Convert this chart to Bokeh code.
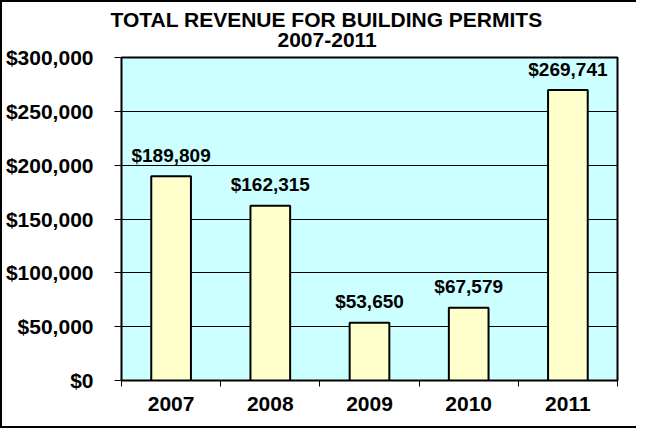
from bokeh.plotting import figure
from bokeh.models import Range1d, FixedTicker, NumeralTickFormatter, ColumnDataSource, Title
from bokeh.core.properties import value
from bokeh.embed import file_html
from bokeh.resources import INLINE

years = ["2007", "2008", "2009", "2010", "2011"]
revenue = [189809, 162315, 53650, 67579, 269741]
value_labels = ["$189,809", "$162,315", "$53,650", "$67,579", "$269,741"]
title_main = "TOTAL REVENUE FOR BUILDING PERMITS"
title_sub = "2007-2011"
y_ticks = [0, 50000, 100000, 150000, 200000, 250000, 300000]

FONT = "Liberation Sans"

xpos = [i + 0.5 for i in range(len(years))]
src = ColumnDataSource(dict(x=xpos, top=revenue, lab=value_labels))

p = figure(width=636, height=428, output_backend="svg", toolbar_location=None,
           x_range=Range1d(0, len(years)), y_range=Range1d(0, 300000),
           min_border_left=119, min_border_right=21, min_border_top=55,
           min_border_bottom=50)
p.styles = {"border-left": "2px solid black", "border-top": "2px solid black",
            "border-bottom": "2px solid black"}
p.background_fill_color = "#CCFFFF"
p.border_fill_color = "white"
p.outline_line_color = "black"
p.outline_line_width = 2

p.vbar(x="x", top="top", width=0.4, bottom=0, source=src,
       fill_color="#FFFFCC", line_color="black", line_width=2)

p.text(x="x", y="top", text="lab", source=src, y_offset=-21,
       text_align="center", text_baseline="alphabetic",
       text_font=value(FONT), text_font_style="bold",
       text_font_size="19px", text_color="black")

p.xgrid.grid_line_color = None
p.ygrid.grid_line_color = "black"
p.ygrid.grid_line_width = 1
p.ygrid.ticker = FixedTicker(ticks=y_ticks)

ya = p.yaxis[0]
ya.ticker = FixedTicker(ticks=y_ticks)
ya.formatter = NumeralTickFormatter(format="$0,0")
ya.major_tick_in = 0
ya.major_tick_out = 7
ya.minor_tick_line_color = None
ya.axis_line_color = "black"
ya.major_label_standoff = 21
ya.major_label_text_font = FONT
ya.major_label_text_font_style = "bold"
ya.major_label_text_font_size = "21px"
ya.major_label_text_color = "black"

xa = p.xaxis[0]
xa.ticker = FixedTicker(ticks=xpos, minor_ticks=list(range(len(years) + 1)))
xa.major_label_overrides = {x: y for x, y in zip(xpos, years)}
xa.major_tick_line_color = None
xa.minor_tick_in = 0
xa.minor_tick_out = 6
xa.minor_tick_line_color = "black"
xa.axis_line_color = "black"
xa.major_label_standoff = 10
xa.major_label_text_font = FONT
xa.major_label_text_font_style = "bold"
xa.major_label_text_font_size = "21px"
xa.major_label_text_color = "black"

# title lines, stacked upward from the plot frame (spacer, sub, main)
p.add_layout(Title(text=" ", standoff=0, text_font_size="8px"), "above")
p.add_layout(Title(text=title_sub, align="left", offset=156, standoff=0,
                   text_font=FONT, text_font_style="bold", text_font_size="21px",
                   text_color="black"), "above")
p.add_layout(Title(text=title_main, align="left", offset=-11, standoff=0,
                   text_font=FONT, text_font_style="bold", text_font_size="21px",
                   text_color="black"), "above")

open("out.html", "w").write(file_html(p, INLINE))
